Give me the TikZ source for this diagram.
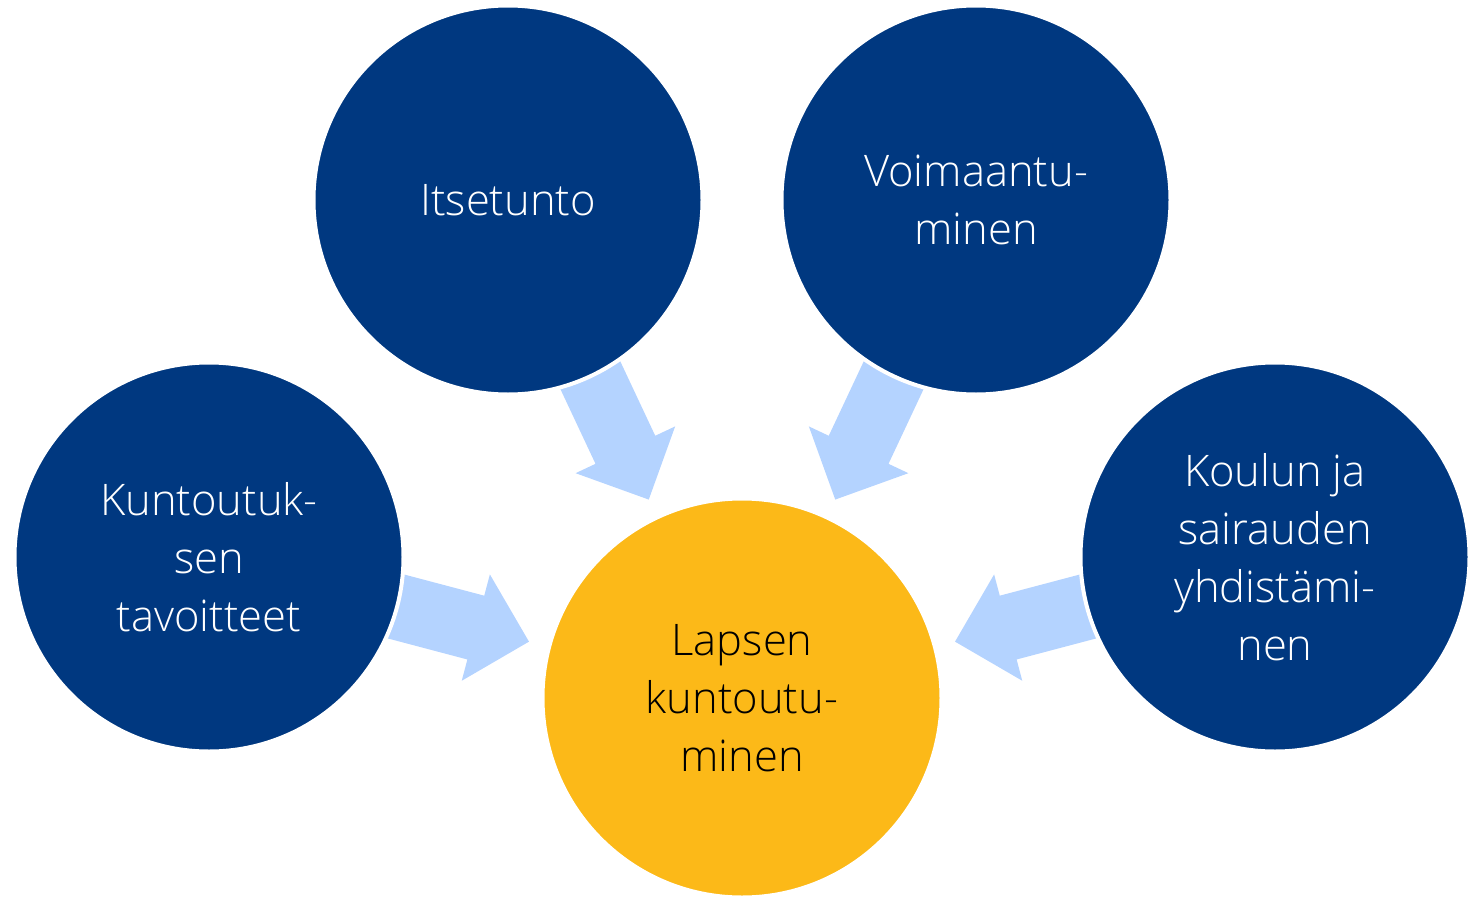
\documentclass[tikz,border=0pt]{standalone}
\usepackage{fontspec}
\setmainfont{Open Sans}[UprightFont=* Light]
\usetikzlibrary{calc,backgrounds}
\definecolor{darkblue}{RGB}{0,56,128}
\definecolor{gold}{RGB}{252,185,24}
\definecolor{lightblue}{RGB}{180,211,255}
\newcommand\radarrow[2]{%
  \path ($(#1.center)!150pt!(#2.center)$) coordinate (t0)
        ($(#1.center)!276pt!(#2.center)$) coordinate (h0)
        ($(#1.center)!331pt!(#2.center)$) coordinate (tip);
  \fill[arrowfill] ($(t0)!33pt!90:(tip)$) -- ($(h0)!33pt!90:(tip)$) -- ($(h0)!55pt!90:(tip)$)
     -- (tip) -- ($(h0)!55pt!-90:(tip)$) -- ($(h0)!33pt!-90:(tip)$) -- ($(t0)!33pt!-90:(tip)$) -- cycle;
}
\begin{document}
\begin{tikzpicture}[x=1pt,y=-1pt,
  bubble/.style={circle, draw=white, line width=4pt, inner sep=0pt, align=center,
    font=\fontsize{43.5}{58}\selectfont},
  outer/.style={bubble, fill=darkblue, text=white, minimum size=389pt},
  hub/.style={bubble, fill=gold, text=black, minimum size=399pt},
  arrowfill/.style={fill=lightblue}]
\useasboundingbox (0,0) rectangle (1476,897);
\node[hub] (hub) at (742,698) {Lapsen\\kuntoutu-\\minen};
\node[outer] (its) at (508,200) {Itsetunto};
\node[outer] (voi) at (976,200) {Voimaantu-\\minen};
\node[outer] (kun) at (209,557) {Kuntoutuk-\\sen\\tavoitteet};
\node[outer] (kou) at (1275,557) {Koulun ja\\sairauden\\yhdistämi-\\nen};
\begin{scope}[on background layer]
  \radarrow{its}{hub}
  \radarrow{voi}{hub}
  \radarrow{kun}{hub}
  \radarrow{kou}{hub}
\end{scope}
\end{tikzpicture}
\end{document}
